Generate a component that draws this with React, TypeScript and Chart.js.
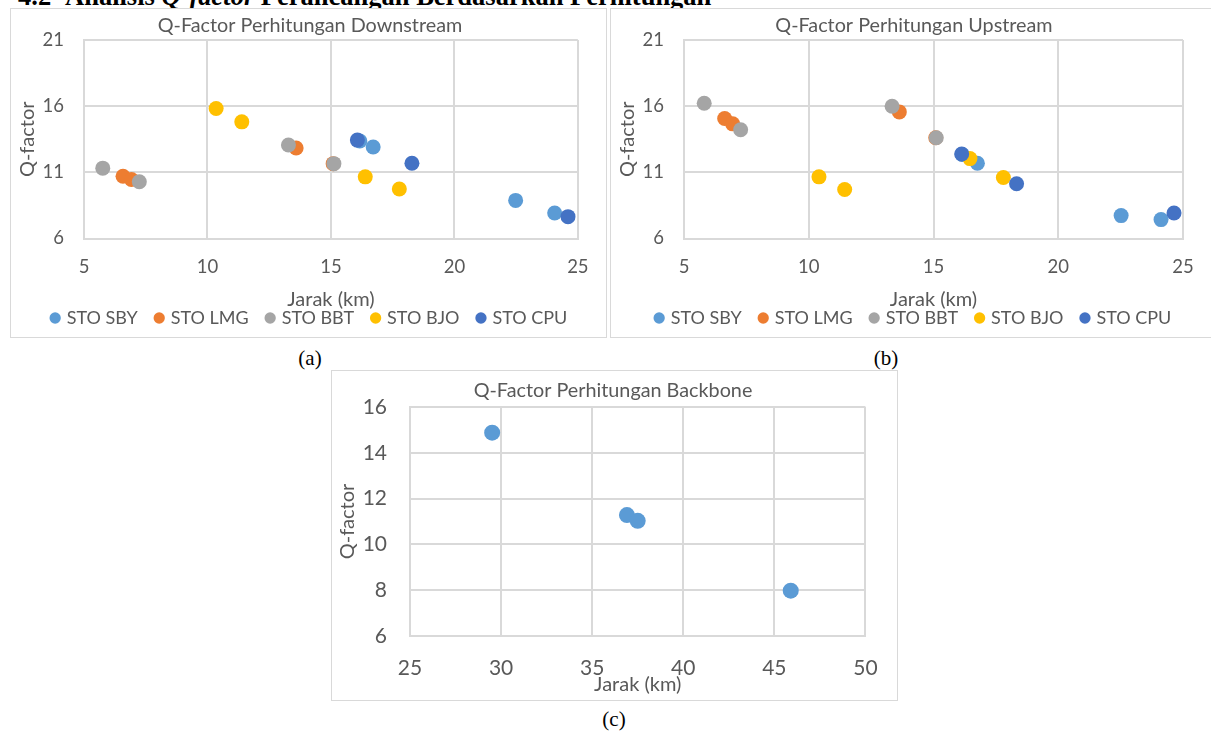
import React, { useEffect, useRef } from "react";
import { Chart, registerables } from "chart.js";

Chart.register(...registerables);

const FONT = "Lato, 'Open Sans', sans-serif";
const TEXT = "#595959";
const GRID = "#d9d9d9";

const seriesNames = ["STO SBY", "STO LMG", "STO BBT", "STO BJO", "STO CPU"];
const seriesColors = ["#5B9BD5", "#ED7D31", "#A5A5A5", "#FFC000", "#4472C4"];

// (a) Downstream
const downSBY = [{ x: 16.17, y: 13.37 }, { x: 16.71, y: 12.92 }, { x: 22.48, y: 8.88 }, { x: 24.06, y: 7.93 }];
const downLMG = [{ x: 6.58, y: 10.71 }, { x: 6.92, y: 10.46 }, { x: 13.59, y: 12.84 }, { x: 15.09, y: 11.66 }];
const downBBT = [{ x: 5.76, y: 11.32 }, { x: 7.24, y: 10.29 }, { x: 13.28, y: 13.07 }, { x: 15.12, y: 11.66 }];
const downBJO = [{ x: 10.35, y: 15.83 }, { x: 11.39, y: 14.82 }, { x: 16.39, y: 10.66 }, { x: 17.77, y: 9.74 }];
const downCPU = [{ x: 16.07, y: 13.44 }, { x: 18.28, y: 11.69 }, { x: 24.6, y: 7.65 }];

// (b) Upstream
const upSBY = [{ x: 16.15, y: 12.35 }, { x: 16.76, y: 11.69 }, { x: 22.52, y: 7.73 }, { x: 24.12, y: 7.43 }];
const upLMG = [{ x: 6.63, y: 15.07 }, { x: 6.95, y: 14.67 }, { x: 13.63, y: 15.57 }, { x: 15.09, y: 13.62 }];
const upBBT = [{ x: 5.81, y: 16.23 }, { x: 7.27, y: 14.22 }, { x: 13.34, y: 16.0 }, { x: 15.11, y: 13.62 }];
const upBJO = [{ x: 10.41, y: 10.66 }, { x: 11.44, y: 9.71 }, { x: 16.46, y: 12.04 }, { x: 17.8, y: 10.61 }];
const upCPU = [{ x: 16.13, y: 12.39 }, { x: 18.33, y: 10.14 }, { x: 24.64, y: 7.93 }];

// (c) Backbone
const backboneSBY = [{ x: 29.51, y: 14.88 }, { x: 36.91, y: 11.28 }, { x: 37.5, y: 11.03 }, { x: 45.9, y: 7.98 }];

// axis ranges / tick steps: [min, max, step]
const accessX = [5, 25, 5];
const accessY = [6, 21, 5];
const backboneX = [25, 50, 5];
const backboneY = [6, 16, 2];

const titles = ["Q-Factor Perhitungan Downstream", "Q-Factor Perhitungan Upstream", "Q-Factor Perhitungan Backbone"];
const xTitle = "Jarak (km)";
const yTitle = "Q-factor";

type Geo = {
  W: number; H: number; padR: number;
  areaL: number; areaR: number; areaT: number; areaB: number;
  titleCx: number; titleCy: number; titleSize: number;
  tickSize: number; axisSize: number;
  yTickGap: number; yTitleCx: number; xTickCy: number; xTitleCy: number;
  legend?: { size: number; pad: number; cy: number; boxW: number };
  radius: number;
};

function ScatterBox(props: {
  left: number; top: number; bw: number; bh: number;
  geo: Geo; series: { x: number; y: number }[][]; names: string[]; colors: string[];
  xr: number[]; yr: number[]; title: string;
}) {
  const ref = useRef<HTMLCanvasElement>(null);
  const g = props.geo;
  useEffect(() => {
    const PR = g.padR;
    const PL = 2 * g.titleCx - (g.W - PR);
    const rightW = g.W - PR - g.areaR;
    const tlh = 1.2 * g.titleSize;
    const tPadTop = g.titleCy - tlh / 2;
    const tPadBottom = g.areaT - tPadTop - tlh;
    const lg = g.legend;
    const LH = lg ? lg.size + lg.pad + 10 : 0;
    const PB = lg ? g.H - LH + lg.pad + lg.size / 2 - lg.cy : 0;
    const xBottom = g.H - PB - LH;
    const xH = xBottom - g.areaB;
    const alh = 1.2 * g.axisSize;
    const xTickPad = g.xTickCy - g.areaB - 0.6 * g.tickSize;
    const xTitlePadB = xBottom - g.xTitleCy - alh / 2;
    const yW = g.areaL - PL;
    const yTitlePadT = g.yTitleCx - PL - alh / 2;
    const n = props.series.length;

    const datasets = props.series.map((d, i) => ({
      label: props.names[i],
      data: d,
      order: n - i,
      backgroundColor: props.colors[i],
      borderColor: props.colors[i],
      borderWidth: 0,
      pointRadius: g.radius,
      pointHoverRadius: g.radius,
      pointStyle: "circle",
    }));

    const chart = new Chart(ref.current as HTMLCanvasElement, {
      type: "scatter",
      data: { datasets },
      options: {
        animation: false,
        responsive: false,
        maintainAspectRatio: false,
        events: [],
        layout: { padding: { left: PL, right: PR, top: 0, bottom: PB } },
        plugins: {
          tooltip: { enabled: false },
          title: {
            display: true,
            text: props.title,
            color: TEXT,
            font: { family: FONT, size: g.titleSize, weight: "normal", lineHeight: 1.2 },
            padding: { top: tPadTop, bottom: tPadBottom },
          },
          legend: lg
            ? {
                display: true,
                position: "bottom",
                align: "center",
                labels: {
                  usePointStyle: true,
                  pointStyle: "circle",
                  boxWidth: lg.boxW,
                  boxHeight: 8,
                  padding: lg.pad,
                  color: TEXT,
                  font: { family: FONT, size: lg.size },
                  sort: (a: any, b: any) => a.datasetIndex - b.datasetIndex,
                },
              }
            : { display: false },
        },
        scales: {
          x: {
            type: "linear",
            min: props.xr[0],
            max: props.xr[1],
            ticks: { stepSize: props.xr[2], padding: xTickPad, color: TEXT, font: { family: FONT, size: g.tickSize, lineHeight: 1.2 } },
            grid: { color: GRID, lineWidth: 2, drawTicks: false },
            border: { color: GRID, width: 2 },
            title: {
              display: true,
              text: xTitle,
              color: TEXT,
              font: { family: FONT, size: g.axisSize, lineHeight: 1.2 },
              padding: { top: 0, bottom: xTitlePadB },
            },
            afterFit: (s: any) => { s.height = xH; },
          },
          y: {
            type: "linear",
            min: props.yr[0],
            max: props.yr[1],
            ticks: { stepSize: props.yr[2], padding: g.yTickGap, color: TEXT, font: { family: FONT, size: g.tickSize, lineHeight: 1.2 } },
            grid: { color: GRID, lineWidth: 2, drawTicks: false },
            border: { color: GRID, width: 2 },
            title: {
              display: true,
              text: yTitle,
              color: TEXT,
              font: { family: FONT, size: g.axisSize, lineHeight: 1.2 },
              padding: { top: yTitlePadT, bottom: 0 },
            },
            afterFit: (s: any) => { s.width = yW; },
          },
          yRightSpace: {
            type: "linear",
            axis: "y",
            position: "right",
            display: true,
            grid: { display: false },
            border: { display: false },
            ticks: { display: false },
            afterFit: (s: any) => { s.width = rightW; },
          },
        },
      } as any,
    });
    return () => chart.destroy();
  }, []);
  return (
    <div
      style={{
        position: "absolute", left: props.left, top: props.top, width: props.bw, height: props.bh,
        border: "1px solid #d9d9d9", boxSizing: "border-box", background: "#fff", overflow: "hidden",
      }}
    >
      <canvas ref={ref} width={g.W} height={g.H} style={{ position: "absolute", left: 0, top: 0, width: g.W, height: g.H }} />
    </div>
  );
}

const geoA: Geo = {
  W: 595, H: 328, padR: 0, areaL: 73, areaR: 570, areaT: 30, areaB: 229.5,
  titleCx: 299, titleCy: 16, titleSize: 19.8, tickSize: 18.5, axisSize: 20,
  yTickGap: 20, yTitleCx: 17, xTickCy: 258, xTitleCy: 291,
  legend: { size: 18, pad: 19, cy: 309, boxW: 5 }, radius: 7.5,
};
const geoB: Geo = {
  W: 604, H: 328, padR: 0, areaL: 73, areaR: 572, areaT: 30, areaB: 229.5,
  titleCx: 303, titleCy: 16, titleSize: 19.8, tickSize: 18.5, axisSize: 20,
  yTickGap: 20, yTitleCx: 17, xTickCy: 258, xTitleCy: 291,
  legend: { size: 18, pad: 19, cy: 309, boxW: 5 }, radius: 7.5,
};
const geoC: Geo = {
  W: 565, H: 329, padR: 29, areaL: 78, areaR: 536, areaT: 36, areaB: 265,
  titleCx: 281, titleCy: 20, titleSize: 19.8, tickSize: 21, axisSize: 20,
  yTickGap: 23, yTitleCx: 16, xTickCy: 297, xTitleCy: 314, radius: 8,
};

const caption: React.CSSProperties = {
  position: "absolute", fontFamily: "'Liberation Serif', 'Times New Roman', serif", fontSize: 21,
  color: "#000", lineHeight: "24px", transform: "translateX(-50%)", whiteSpace: "nowrap",
};

export default function App() {
  return (
    <div style={{ position: "fixed", left: 0, top: 0, width: 1211, height: 731, overflow: "hidden", background: "#fff" }}>
      <div
        style={{
          position: "absolute", left: 18, top: -18, fontFamily: "'Liberation Serif', 'Times New Roman', serif",
          fontWeight: "bold", fontSize: 26.5, lineHeight: "29px", whiteSpace: "nowrap", color: "#000",
        }}
      >
        <span>4.2</span>
        <span style={{ position: "absolute", left: 47 }}>
          Analisis <i>Q-factor</i> Perancangan Berdasarkan Perhitungan
        </span>
      </div>
      <ScatterBox
        left={10} top={8} bw={597} bh={330} geo={geoA}
        series={[downSBY, downLMG, downBBT, downBJO, downCPU]} names={seriesNames} colors={seriesColors}
        xr={accessX} yr={accessY} title={titles[0]}
      />
      <ScatterBox
        left={610} top={8} bw={606} bh={330} geo={geoB}
        series={[upSBY, upLMG, upBBT, upBJO, upCPU]} names={seriesNames} colors={seriesColors}
        xr={accessX} yr={accessY} title={titles[1]}
      />
      <ScatterBox
        left={331} top={370} bw={567} bh={331} geo={geoC}
        series={[backboneSBY]} names={["Backbone"]} colors={[seriesColors[0]]}
        xr={backboneX} yr={backboneY} title={titles[2]}
      />
      <div style={{ ...caption, left: 310, top: 346 }}>(a)</div>
      <div style={{ ...caption, left: 886, top: 346 }}>(b)</div>
      <div style={{ ...caption, left: 614, top: 707 }}>(c)</div>
    </div>
  );
}
